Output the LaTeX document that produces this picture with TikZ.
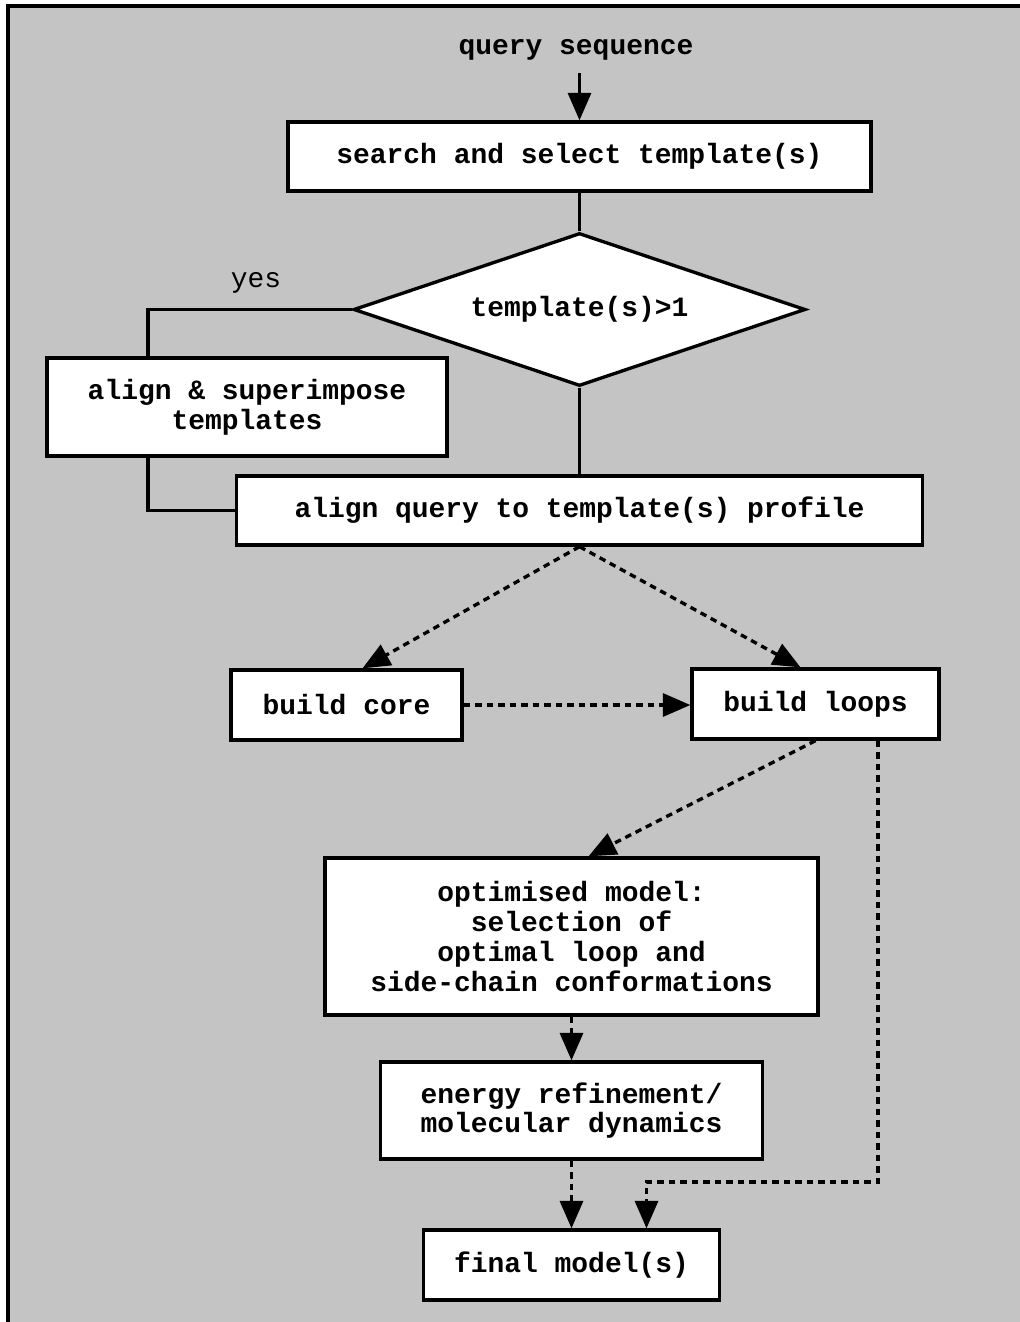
\documentclass[tikz,border=0pt]{standalone}
\usepackage{fontspec}
\setmonofont{Liberation Mono}
\usetikzlibrary{shapes.geometric,arrows.meta,calc}

\definecolor{panelgray}{RGB}{196,196,196}

\tikzset{
	box/.style={draw, fill=white, line width=1.9pt, inner sep=0pt, align=center,
		font=\ttfamily\bfseries\fontsize{15.9}{16.9}\selectfont},
	decision/.style={box, diamond, aspect=2.95, minimum width=9.04cm, minimum height=3.06cm},
	link/.style={line width=1.9pt},
	flow/.style={link, dash pattern=on 0.13cm off 0.1cm},
	tip/.style={-{Triangle[length=0.55cm, width=0.46cm]}}
}

\begin{document}
\begin{tikzpicture}[x=0.02cm, y=-0.02cm]
		\useasboundingbox (0,0) rectangle (1019,1322);
		\fill[panelgray] (8,6) rectangle (1030,1330);
		\draw[link] (8,1330) -- (8,6) -- (1030,6);

		% boxes
		\node[font=\ttfamily\bfseries\fontsize{15.9}{16.9}\selectfont, inner sep=0.25cm] (query) at (576,50) {query sequence};
		\node[box, minimum width=11.66cm, minimum height=1.38cm] (search) at (579.5,156.5) {search and select template(s)};
		\node[decision] (dec) at (579.5,309.5) {template(s)>1};
		\node[font=\ttfamily\fontsize{15.9}{16.9}\selectfont] (yes) at (256,283) {yes};
		\node[box, minimum width=8cm, minimum height=1.96cm] (sup) at (247,407) {align \& superimpose\\templates};
		\node[box, minimum width=13.72cm, minimum height=1.38cm] (align) at (579.5,510.5) {align query to template(s) profile};
		\node[box, minimum width=4.62cm, minimum height=1.4cm] (core) at (346.5,705) {build core};
		\node[box, minimum width=4.94cm, minimum height=1.4cm] (loops) at (815.5,704) {build loops};
		\node[box, minimum width=9.86cm, minimum height=3.14cm] (opt) at (571.5,936.5) {optimised model:\\selection of\\optimal loop and\\side-chain conformations};
		\node[box, minimum width=7.64cm, minimum height=1.94cm] (energy) at (571.5,1110.5) {energy refinement/\\molecular dynamics};
		\node[box, minimum width=5.92cm, minimum height=1.4cm] (final) at (571.5,1265) {final model(s)};

		\coordinate (yesbend) at (148,309.5);
		\coordinate (side) at (878,1182);

		% solid connectors
		\draw[link, tip] (query.south -| search.north) -- (search.north);
		\draw[link] (search.south) -- (dec.north);
		\draw[link] (dec.west) -- (yesbend) -- (yesbend |- sup.north);
		\draw[link] (yesbend |- sup.south) |- (align.west);
		\draw[link] (dec.south) -- (align.north);

		% dashed connectors
		\draw[flow, tip] (align.south) -- ($(core.north)+(16,0)$);
		\draw[flow, tip] (align.south) -- ($(loops.north)+(-15,0)$);
		\draw[flow, tip] (core.east) -- (core.east -| loops.west);
		\draw[flow, tip] (loops.south) -- ($(opt.north)+(17,0)$);
		\draw[flow, tip] (opt.south) -- (energy.north);
		\draw[flow, tip] (energy.south) -- (final.north);
		\draw[flow, tip] (side |- loops.south) -- (side) -| ($(final.north)+(75,0)$);
	\end{tikzpicture}
\end{document}
